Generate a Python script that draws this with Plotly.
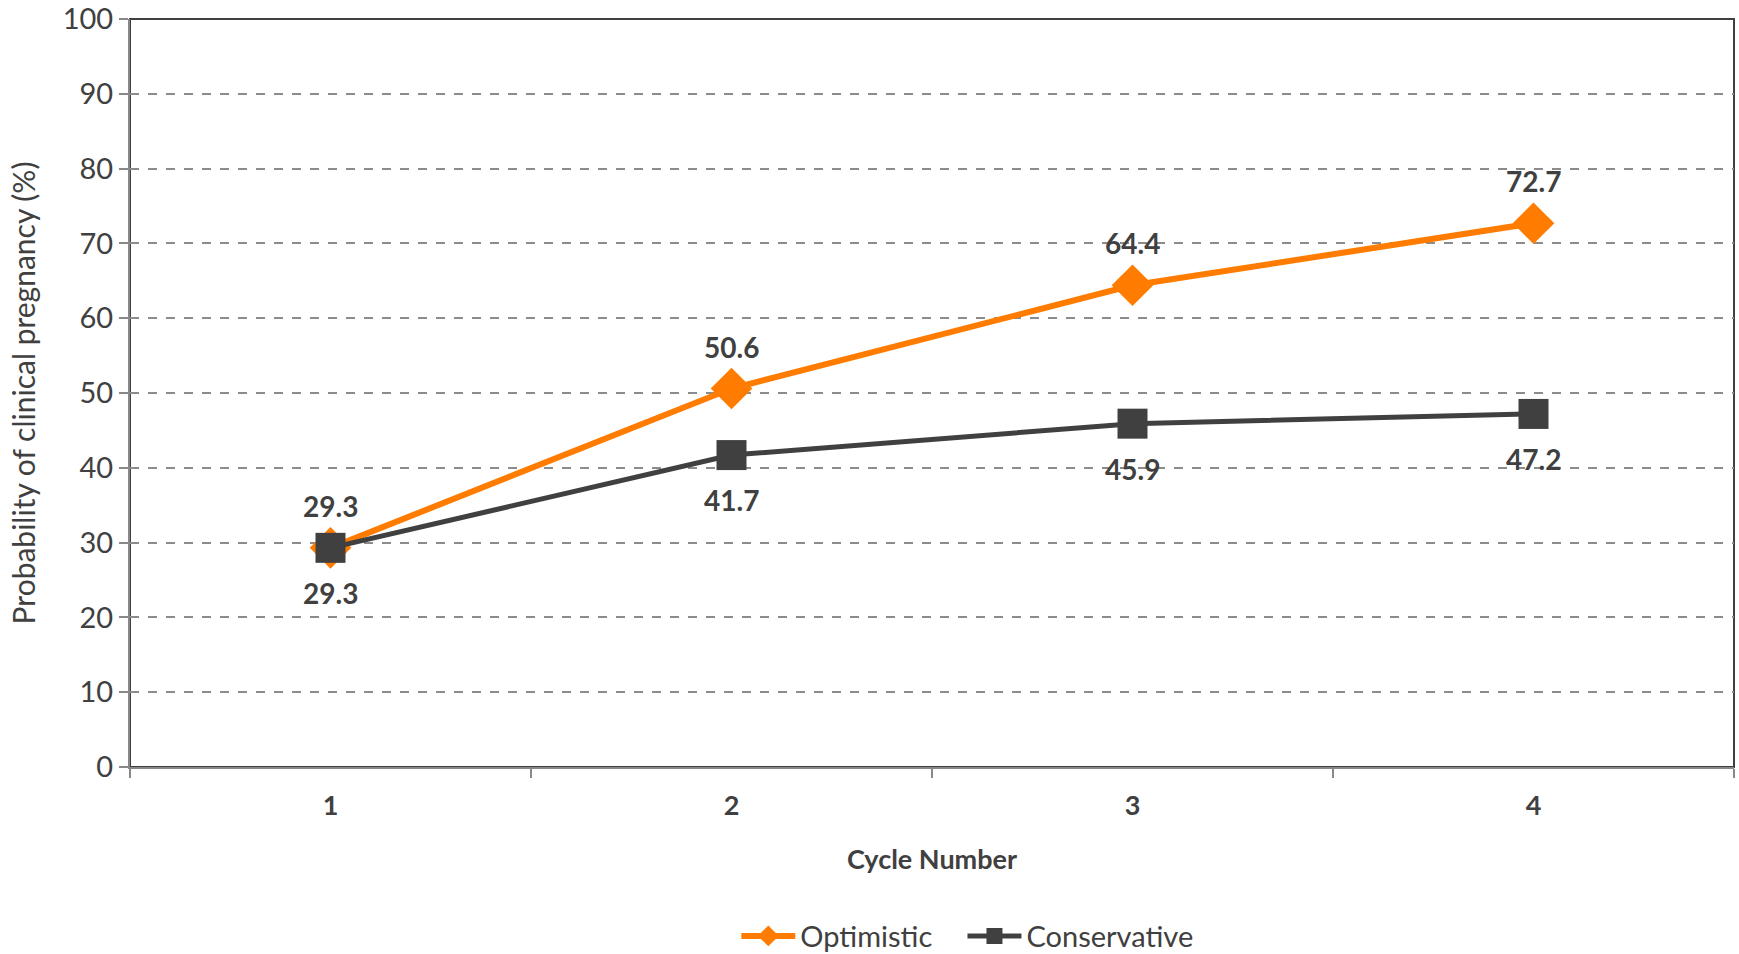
import plotly.graph_objects as go

cycles = ["1", "2", "3", "4"]
optimistic = [29.3, 50.6, 64.4, 72.7]
conservative = [29.3, 41.7, 45.9, 47.2]
y_ticks = [0, 10, 20, 30, 40, 50, 60, 70, 80, 90, 100]

ORANGE = "#FF7C00"
DARK = "#404040"
FONT = "Lato"

fig = go.Figure()
fig.add_trace(go.Scatter(
    x=cycles, y=optimistic, name="Optimistic", mode="lines+markers",
    line=dict(color=ORANGE, width=6),
    marker=dict(symbol="diamond", size=32, color=ORANGE),
    legend="legend",
))
fig.add_trace(go.Scatter(
    x=cycles, y=conservative, name="Conservative", mode="lines+markers",
    line=dict(color=DARK, width=5),
    marker=dict(symbol="square", size=30, color=DARK),
    legend="legend2",
))

for i, v in enumerate(optimistic):
    fig.add_annotation(x=i, y=v, text=f"{v:.1f}", showarrow=False, yshift=42,
                       font=dict(family=FONT, size=28, color=DARK, weight="bold"))
for i, v in enumerate(conservative):
    fig.add_annotation(x=i, y=v, text=f"{v:.1f}", showarrow=False, yshift=-45,
                       font=dict(family=FONT, size=28, color=DARK, weight="bold"))

fig.add_shape(type="rect", xref="paper", yref="paper", x0=0, y0=0, x1=1, y1=1,
              line=dict(color=DARK, width=2), layer="below")

legend_common = dict(orientation="h", xanchor="left", y=-0.226, yanchor="middle",
                     font=dict(family=FONT, size=29, color=DARK), itemwidth=54,
                     bgcolor="rgba(0,0,0,0)")

fig.update_layout(
    width=1739, height=954,
    paper_bgcolor="white", plot_bgcolor="white",
    margin=dict(l=130, r=5, t=19, b=187, autoexpand=False),
    font=dict(family=FONT, color=DARK),
    showlegend=True,
    legend=dict(x=0.378, **legend_common),
    legend2=dict(x=0.519, **legend_common),
    xaxis=dict(
        type="category", range=[-0.5, 3.5], automargin=False,
        showgrid=False, showline=True, linecolor="#888888", linewidth=2,
        ticks="outside", tickson="boundaries", ticklen=9, tickcolor="#888888", tickwidth=1.5,
        ticklabelstandoff=14,
        tickfont=dict(family=FONT, size=27, color=DARK, weight="bold"),
        title=dict(text="Cycle Number", font=dict(family=FONT, size=27, color=DARK, weight="bold"),
                   standoff=30),
        zeroline=False,
    ),
    yaxis=dict(
        range=[0, 100], tickvals=y_ticks, automargin=False,
        showgrid=True, gridcolor="#8C8C8C", griddash="dash", gridwidth=1.5,
        showline=True, linecolor="#888888", linewidth=2,
        ticks="outside", ticklen=9, tickcolor="#888888", tickwidth=1.5,
        tickfont=dict(family=FONT, size=29, color=DARK),
        title=dict(text="Probability of clinical pregnancy (%)",
                   font=dict(family=FONT, size=30, color=DARK), standoff=18),
        zeroline=False,
    ),
)

fig.write_html("out.html", config={"displayModeBar": False},
               post_script="document.body.style.margin='0';document.body.style.overflow='hidden';")
